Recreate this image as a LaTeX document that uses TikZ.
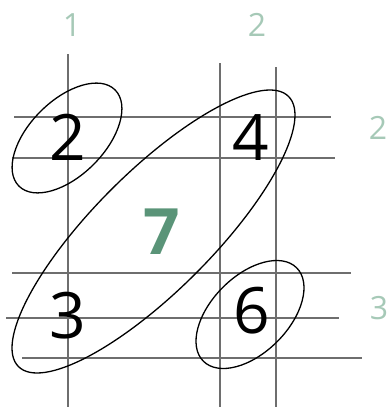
\documentclass[tikz,border=0pt]{standalone}
\usepackage{fontspec}
\setmainfont{Open Sans}
\usepackage{tikz}
\usetikzlibrary{positioning}
\definecolor{grid}{HTML}{6E6E6E}
\definecolor{pale}{HTML}{A6C9B7}
\definecolor{leaf}{HTML}{5A9478}
\tikzset{
  gridline/.style={draw=grid, line width=1.3pt},
  loop/.style={draw=black, line width=1.3pt},
  digit/.style={inner sep=0pt, font=\fontsize{64}{64}\selectfont},
  index/.style={inner sep=0pt, text=pale, font=\fontsize{32}{32}\selectfont}
}

\begin{document}
\begin{tikzpicture}[x=1pt, y=-1pt]
  \useasboundingbox (0,0) rectangle (390,407);
  % grid
  \draw[gridline] (68,54) -- (68,407);
  \draw[gridline] (220,63) -- (220,407);
  \draw[gridline] (276,67) -- (276,407);
  \draw[gridline] (14,117) -- (331,117);
  \draw[gridline] (12,158) -- (335,158);
  \draw[gridline] (12,273) -- (351,273);
  \draw[gridline] (6,318) -- (339,318);
  \draw[gridline] (22,358) -- (362,358);
  % indices
  \node[index] (c1) at (72,25) {1};
  \node[index] (c2) at (257,25) {2};
  \node[index] (r2) at (378,128) {2};
  \node[index] (r3) at (379,308) {3};
  % cells
  \node[digit] (two) at (68,137) {2};
  \node[digit] (four) at (251,138) {4};
  \node[digit] (three) at (68,316) {3};
  \node[digit] (six) at (252,311) {6};
  \node[digit, text=leaf, font=\fontsize{64}{64}\selectfont\bfseries] (sum) at (162,232) {7};
  % loops
  \draw[loop, rotate around={45:(67,138)}] (67,138) ellipse [x radius=68, y radius=37.5];
  \draw[loop, rotate around={45:(153.5,231.5)}] (153.5,231.5) ellipse [x radius=191, y radius=59.5];
  \draw[loop, rotate around={45:(250,314.5)}] (250,314.5) ellipse [x radius=66, y radius=38.4];
\end{tikzpicture}
\end{document}
